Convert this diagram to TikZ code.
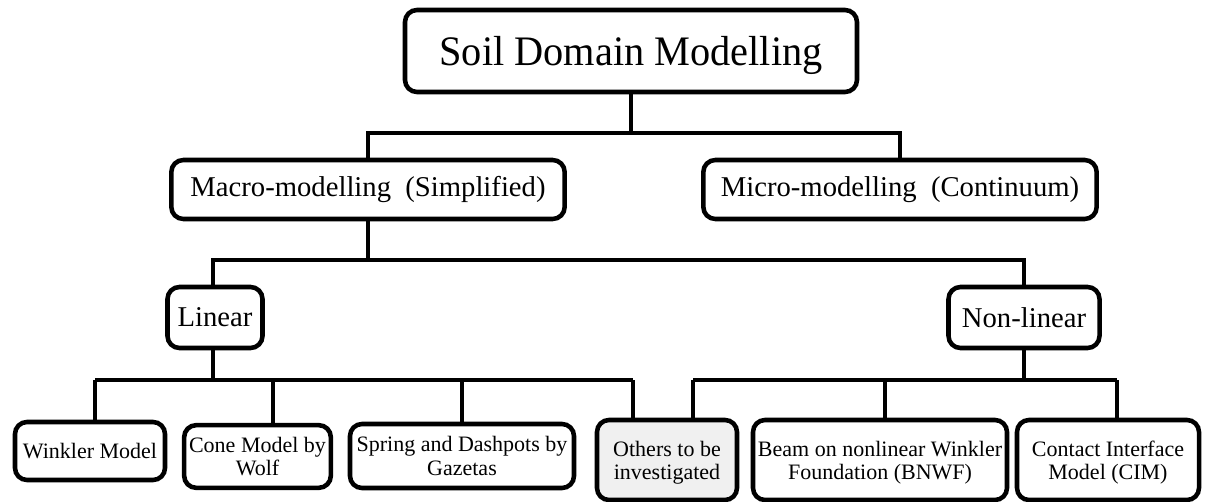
\documentclass[tikz,border=0pt]{standalone}
\usepackage{fontspec}
\setmainfont{Liberation Serif}
\newfontfamily\rootfont{Liberation Serif}[FakeStretch=0.96]

\tikzset{
  box/.style={draw, line width=3.4pt, rounded corners=9pt, inner sep=1pt, align=center},
  toplevel/.style={box, font=\rootfont\fontsize{31.5}{36}\selectfont},
  midlevel/.style={box, font=\fontsize{21.5}{25}\selectfont},
  leaf/.style={box, font=\fontsize{16.5}{17.5}\selectfont},
  lowtext/.style={execute at begin node={\rule{0pt}{33pt}}},
  wire/.style={line width=3pt},
}

\begin{document}
\begin{tikzpicture}[x=0.75pt,y=-0.75pt]
  \useasboundingbox (0,0) rectangle (1209,502);

  % boxes
  \node[toplevel, text height=29pt, minimum width=339pt, minimum height=61.5pt] (root) at (631,51) {Soil Domain Modelling};

  \node[midlevel, minimum width=295pt, minimum height=44.25pt] (macro) at (368,189.5) {Macro-modelling~~(Simplified)};
  \node[midlevel, minimum width=295pt, minimum height=44.25pt] (micro) at (900,189.5) {Micro-modelling~~(Continuum)};

  \node[midlevel, minimum width=71.25pt, minimum height=45.75pt] (linear) at (215,317.5) {Linear};
  \node[midlevel, minimum width=113.25pt, minimum height=45.75pt] (nonlinear) at (1024,317.5) {Non-linear};

  \node[leaf, minimum width=112.5pt, minimum height=43.5pt] (winkler) at (90,451) {Winkler Model};
  \node[leaf, minimum width=110pt, minimum height=47pt] (cone) at (257.5,456.5) {Cone Model by\\Wolf};
  \node[leaf, minimum width=168pt, minimum height=48pt] (spring) at (462,456) {Spring and Dashpots by\\Gazetas};
  \node[leaf, lowtext, fill=black!6, minimum width=105pt, minimum height=60pt] (others) at (667,460) {Others to be\\investigated};
  \node[leaf, lowtext, minimum width=190.5pt, minimum height=60pt] (bnwf) at (880,460) {Beam on nonlinear Winkler\\Foundation (BNWF)};
  \node[leaf, lowtext, minimum width=136.5pt, minimum height=60pt] (cim) at (1108,460) {Contact Interface\\Model (CIM)};

  % junctions
  \coordinate (rootj) at (631,133);
  \coordinate (macroj) at (368,260);
  \coordinate (linj) at (213,380);
  \coordinate (nlj) at (1024,380);

  \coordinate (l1) at (95,380);
  \coordinate (l2) at (273,380);
  \coordinate (l3) at (462,380);
  \coordinate (l4) at (633,380);
  \coordinate (n1) at (693,380);
  \coordinate (n2) at (885,380);
  \coordinate (n3) at (1117,380);

  % connectors
  \draw[wire] (root.south) -- (rootj);
  \draw[wire] (macro.north) |- (rootj) -| (micro.north);
  \draw[wire] (macro.south) -- (macroj);
  \draw[wire] (linear.north -| linj) |- (macroj) -| (nonlinear.north);

  \draw[wire] (linear.south -| linj) -- (linj);
  \draw[wire] (l1) -- (l4);
  \foreach \c/\n in {l1/winkler, l2/cone, l3/spring, l4/others}
    \draw[wire] (\c) -- (\c |- \n.north);

  \draw[wire] (nonlinear.south) -- (nlj);
  \draw[wire] (n1) -- (n3);
  \foreach \c/\n in {n1/others, n2/bnwf, n3/cim}
    \draw[wire] (\c) -- (\c |- \n.north);
\end{tikzpicture}
\end{document}
